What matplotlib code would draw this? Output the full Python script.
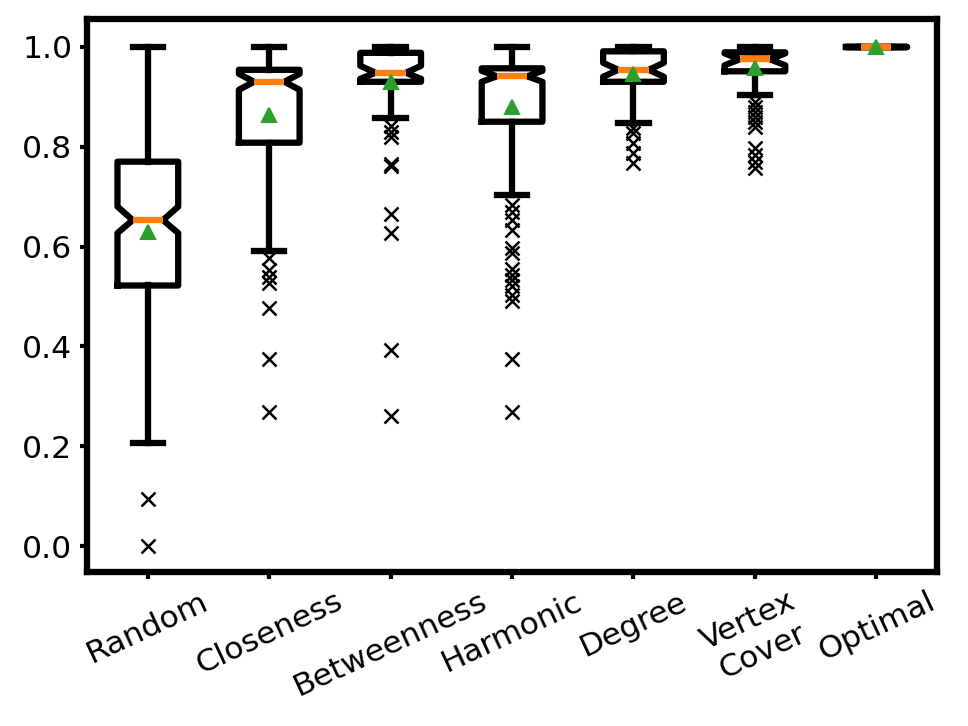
import matplotlib
matplotlib.use('Agg')
from matplotlib import pyplot as plt

labels = ['Random', 'Closeness', 'Betweenness', 'Harmonic', 'Degree', 'Vertex\nCover', 'Optimal']

medians = [0.653, 0.930, 0.948, 0.941, 0.954, 0.975, 1.0]
q1 = [0.522, 0.808, 0.930, 0.850, 0.930, 0.951, 1.0]
q3 = [0.770, 0.954, 0.988, 0.957, 0.991, 0.989, 1.0]
whislo = [0.206, 0.592, 0.857, 0.703, 0.848, 0.904, 1.0]
whishi = [1.0, 1.0, 1.0, 1.0, 1.0, 1.0, 1.0]
means = [0.630, 0.864, 0.930, 0.879, 0.946, 0.957, 1.0]
cilo = [0.627, 0.914, 0.936, 0.930, 0.940, 0.963, 1.0]
cihi = [0.680, 0.946, 0.962, 0.952, 0.968, 0.987, 1.0]

fliers = [
    [0.095, 0.0],
    [0.577, 0.553, 0.540, 0.526, 0.476, 0.374, 0.269],
    [0.842, 0.830, 0.820, 0.765, 0.762, 0.665, 0.628, 0.393, 0.261],
    [0.683, 0.670, 0.653, 0.633, 0.597, 0.587, 0.556, 0.543, 0.533,
     0.520, 0.503, 0.490, 0.374, 0.269],
    [0.837, 0.827, 0.807, 0.787, 0.767],
    [0.890, 0.880, 0.870, 0.860, 0.850, 0.840, 0.797, 0.784, 0.770, 0.757],
    [],
]

stats = []
for i in range(len(labels)):
    stats.append({'label': labels[i], 'med': medians[i], 'q1': q1[i], 'q3': q3[i],
                  'whislo': whislo[i], 'whishi': whishi[i], 'mean': means[i],
                  'fliers': fliers[i], 'cilo': cilo[i], 'cihi': cihi[i]})

fig, ax = plt.subplots(figsize=(6.4, 4.8), dpi=151.25)

lw = 3
ax.bxp(stats, shownotches=True, showmeans=True,
       boxprops=dict(linewidth=lw, color='black'),
       whiskerprops=dict(linewidth=lw, color='black'),
       capprops=dict(linewidth=lw, color='black'),
       medianprops=dict(linewidth=lw, color='C1'),
       meanprops=dict(marker='^', markerfacecolor='C2', markeredgecolor='C2', markersize=7),
       flierprops=dict(marker='x', markeredgecolor='black', markersize=7, markeredgewidth=1.2))

for sp in ax.spines.values():
    sp.set_linewidth(lw)

ax.set_ylim(-0.052, 1.056)
ax.tick_params(axis='both', labelsize=15, width=2)
plt.xticks(rotation=25)
plt.subplots_adjust(left=0.09, right=0.968, top=0.974, bottom=0.212)
plt.savefig('out.png')
